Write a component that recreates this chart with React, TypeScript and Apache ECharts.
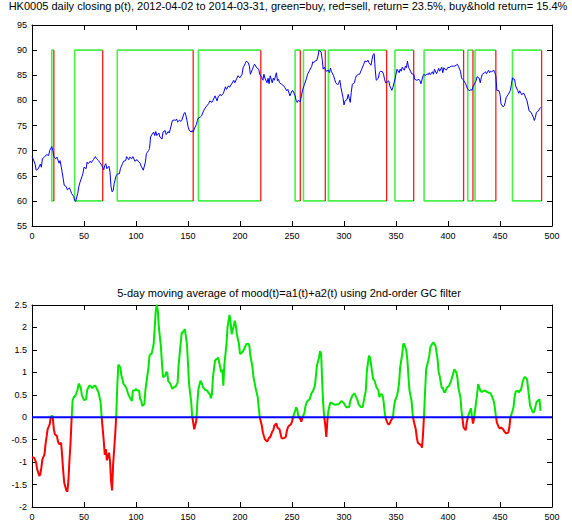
import React, { useEffect, useRef } from "react";
import * as echarts from "echarts";

// ---- top chart: daily closing price (day index, price) ----
const PRICE_DAYS = [
  0, 1, 3, 4, 6, 8, 9, 10, 12, 14, 16, 17, 19, 20, 21, 23, 24, 26, 27, 28, 29, 30, 31, 33, 34, 36, 37, 38, 40, 41, 42, 44, 45, 46, 48, 49,
  50, 52, 53, 54, 56, 57, 59, 61, 62, 64, 65, 67, 69, 70, 71, 72, 74, 75, 76, 77, 78, 79, 81, 82, 84, 85, 87, 88, 90, 91, 93, 94, 96, 97, 99,
  101, 102, 104, 105, 107, 109, 110, 112, 113, 114, 115, 117, 118, 119, 120, 122, 123, 125, 126, 128, 129, 131, 132, 133, 135, 137, 138,
  139, 140, 142, 143, 144, 146, 147, 148, 149, 150, 151, 153, 154, 155, 156, 158, 159, 160, 162, 163, 165, 166, 168, 170, 171, 173, 174,
  176, 178, 179, 181, 182, 184, 186, 187, 189, 190, 192, 194, 195, 197, 198, 200, 202, 203, 205, 206, 208, 209, 210, 212, 213, 214, 216,
  218, 219, 221, 222, 223, 224, 226, 227, 228, 229, 231, 232, 233, 235, 236, 237, 238, 240, 242, 243, 245, 246, 248,
  250, 251, 253, 254, 255, 256, 258, 259, 260, 262, 264, 265, 267, 269, 270, 271, 272, 274, 275, 276, 278, 279, 280, 281, 282, 283, 285,
  286, 287, 288, 290, 291, 292, 294, 295, 296, 297, 299, 300, 301, 303, 304, 305, 306, 307, 308, 310, 311, 312, 314, 315, 317, 319, 320,
  322, 323, 324, 326, 327, 328, 329, 330, 331, 333, 334, 335, 337, 338, 339, 340, 342, 343, 344, 346, 347, 349, 350, 351, 353, 354, 355,
  356, 358, 359, 360, 361, 362, 364, 365, 367, 368, 370, 372, 373, 374, 376, 377, 378, 380, 381, 382, 383, 385, 386, 387, 389, 390, 391,
  392, 394, 395, 396, 398, 399, 400, 401, 403, 405, 406, 408, 409, 410, 412, 413, 414, 415, 417, 418, 419, 421, 422, 423, 424, 426, 427,
  428, 430, 431, 432, 433, 435, 436, 437, 439, 440, 441, 442, 444, 445, 446, 447, 449, 450, 451, 453, 454, 455, 456, 458, 460, 461, 462,
  463, 464, 465, 467, 468, 469, 471, 472, 473, 474, 476, 477, 478, 480, 481, 482, 483, 484, 485, 487, 488, 489,
];
const PRICE_VALUES = [
  68.8, 68.4, 67.3, 66.1, 66.4, 67.3, 66.7, 68.4, 68.7, 69.2, 69.0, 70.0, 70.8, 70.0, 68.8, 68.4, 68.7, 67.5, 68.0, 66.9, 65.7, 64.4, 63.1,
  62.8, 62.2, 62.6, 62.1, 61.5, 60.9, 60.1, 59.9, 61.5, 62.8, 63.6, 64.8, 65.5,
  66.7, 66.4, 67.7, 67.4, 67.9, 67.6, 68.2, 68.8, 68.4, 68.0, 67.7, 67.1, 66.2, 67.1, 67.4, 66.4, 66.9, 65.7, 62.8, 61.8, 62.0, 63.4, 65.1,
  65.3, 65.4, 66.4, 67.4, 67.9, 68.0, 68.8, 68.2, 68.7, 68.4, 68.8, 67.9,
  68.2, 67.9, 67.5, 66.9, 66.1, 67.7, 69.4, 70.0, 70.4, 72.7, 73.1, 73.7, 73.0, 73.8, 73.0, 73.5, 72.7, 72.3, 73.7, 74.0, 73.2, 73.8, 73.5,
  74.3, 76.0, 76.1, 76.0,
  76.3, 75.7, 76.1, 75.8, 76.0, 77.3, 77.6, 77.0, 76.0, 74.8, 74.1, 73.7, 74.0, 73.7, 74.3, 75.2, 76.0, 76.5, 76.7, 76.9, 77.9, 78.3, 78.9,
  79.4, 79.9, 79.6, 80.0,
  80.9, 79.9, 80.7, 81.2, 80.9, 81.4, 82.7, 82.2, 82.9, 82.6, 83.3, 84.0, 83.5, 84.4, 84.9, 84.5, 85.2, 86.5, 87.3, 87.8, 87.5, 86.8, 85.2,
  86.2, 86.8, 87.2, 86.5,
  86.2, 85.2, 84.5, 84.0, 85.2, 84.4, 83.5, 84.4, 83.3, 84.9, 83.5, 84.4, 84.0, 85.5, 83.9, 84.2, 83.5, 83.2, 82.9, 82.6, 81.9, 82.2, 80.9,
  81.9, 81.9, 80.9, 80.0, 79.6, 80.0, 79.7, 80.9, 81.9, 83.2, 84.4, 85.2, 86.0, 86.8, 87.7, 87.5, 87.8, 88.0, 88.8, 90.0, 89.6, 88.2, 86.2,
  86.6, 86.2, 85.8, 86.0,
  85.5, 86.4, 85.7, 84.9, 84.2, 83.5, 83.1, 83.5, 84.0, 82.6, 80.6, 79.1, 79.9, 80.2, 81.2, 80.4, 79.6, 81.6, 83.2, 83.5, 84.4, 84.9, 85.2,
  85.2, 86.2, 87.2, 87.8,
  87.7, 88.0, 87.5, 87.0, 88.2, 89.1, 89.3, 86.2, 84.0, 84.4, 85.5, 85.8, 85.7, 85.2, 84.2, 83.5, 83.7, 83.9, 82.9, 82.0, 82.6, 84.2, 85.2,
  86.2, 85.5, 86.2, 85.8,
  86.6, 86.0, 86.8, 86.5, 87.8, 86.6, 85.8, 85.3, 85.2, 84.2, 84.0, 84.2, 83.9, 83.3, 84.9, 85.2, 84.9, 85.3, 85.1, 85.5, 85.1, 85.7, 85.2,
  86.2, 85.3, 85.8, 86.4,
  85.8, 86.6, 85.5, 86.5, 86.0, 86.2, 86.6, 86.5, 86.8, 86.8, 86.8, 87.0, 87.2, 86.8, 85.8, 84.5, 84.2, 84.0, 83.3, 82.7, 82.2, 81.9, 82.2,
  82.0, 82.7, 83.5, 83.9,
  84.7, 84.4, 83.5, 84.5, 85.2, 85.5, 85.7, 85.3, 86.0, 85.5, 85.8, 85.7, 86.0, 85.5, 84.9, 82.0, 81.9, 81.2, 79.3, 78.7, 78.9, 79.6, 80.6,
  81.2, 82.0, 83.2, 84.5,
  84.2, 84.2, 82.9, 82.0, 81.4, 81.9, 81.1, 81.4, 81.4, 80.9, 79.9, 78.9, 77.9, 77.6, 77.1, 76.7, 76.0, 76.6, 77.6, 77.9, 78.3, 78.6,
];

// buy / sell days (green = buy, red = sell)
const BUY_DAYS = [19, 41, 82, 160, 253, 261, 285, 349, 377, 419, 426, 462];
const SELL_DAYS = [21, 68, 155, 220, 258, 282, 341, 367, 415, 424, 446, 490];
const BOX_LOW = 60;
const BOX_HIGH = 90;

// ---- bottom chart: 5-day moving average of mood ----
const MOOD_DAYS = [
  0, 2, 4, 5, 7, 8, 9, 10, 12, 13, 14, 15, 17, 18, 19, 20, 21, 22, 24, 25, 26, 28, 29, 30, 31, 33, 34, 35, 36, 37, 38, 39, 40, 42, 44, 45,
  47, 48, 50, 52, 53, 55, 56, 58, 60, 61, 63, 64, 66, 67, 69, 70, 71, 72, 74, 75, 76, 77, 78, 80, 81, 82, 83, 85, 86, 87, 88, 90, 91, 92,
  94, 95, 96, 97, 99, 100, 101, 103, 104, 105, 106, 108, 109, 110, 112, 113, 114, 115, 117, 118, 119, 120, 121, 122, 124, 125, 126, 128,
  129, 130, 131, 133, 134, 135, 137, 138, 140, 141, 142, 144, 145, 146, 147, 149, 150, 151, 153, 154, 155, 156, 158, 159, 160, 162, 163,
  164, 165, 167, 168, 169, 171, 172, 173, 174, 176, 177, 178, 179, 181, 182, 183, 184, 185, 187, 188, 189, 190, 191, 192, 194, 195, 196,
  197, 199, 200, 201, 203, 204, 205, 206, 208, 209, 210, 212, 213, 214, 215, 217, 218, 219, 221, 222, 223, 224, 226, 227, 228, 229, 231,
  232, 233, 235, 236, 237, 238, 240, 241, 242, 244, 245, 246, 247, 249, 250, 251, 253, 254, 255, 256, 258, 259, 260, 262, 263, 264, 265,
  267, 268, 269, 270, 272, 273, 274, 276, 277, 278, 279, 280, 281, 282, 283, 284, 285, 286, 287, 289, 290, 292, 294, 295, 297, 298, 300,
  302, 303, 305, 306, 308, 310, 311, 313, 314, 316, 318, 319, 321, 322, 324, 325, 326, 328, 329, 330, 331, 333, 334, 335, 337, 338, 339,
  340, 342, 343, 344, 345, 347, 348, 349, 351, 352, 353, 354, 356, 357, 358, 360, 361, 362, 363, 365, 366, 367, 369, 370, 371, 372, 374,
  375, 376, 377, 378, 379, 381, 382, 383, 385, 386, 387, 388, 390, 391, 392, 394, 395, 396, 397, 399, 400, 401, 403, 404, 405, 406, 408,
  409, 410, 412, 413, 414, 415, 417, 418, 419, 420, 422, 423, 424, 425, 426, 427, 428, 429, 431, 432, 433, 435, 436, 437, 438, 440, 441,
  442, 444, 445, 446, 447, 449, 450, 451, 453, 454, 455, 456, 458, 459, 460, 462, 463, 464, 465, 467, 468, 469, 470, 472, 473, 474, 476,
  477, 478, 479, 481, 482, 483, 485, 486, 487, 488, 489,
];
const MOOD_VALUES = [
  -0.89, -0.9, -1.01, -1.16, -1.31, -1.27, -1.12, -0.94, -0.83, -0.6, -0.44, -0.27, -0.16, -0.01, 0.04, -0.01, -0.27, -0.38, -0.42, -0.54,
  -0.6, -0.57, -0.86, -1.2, -1.46, -1.63, -1.66, -1.42, -0.97, -0.6, -0.08, 0.36, 0.44, 0.49, 0.63, 0.75,
  0.65, 0.48, 0.38, 0.4, 0.6, 0.7, 0.7, 0.65, 0.7, 0.7, 0.6, 0.55, 0.33, 0.0, -0.53, -0.84, -0.71, -0.96, -0.79, -0.97, -1.42, -1.63, -1.05,
  -0.38, 0.03, 0.7, 1.17, 1.11, 0.92, 0.85, 0.74, 0.68, 0.63, 0.55,
  0.44, 0.4, 0.36, 0.59, 0.6, 0.63, 0.6, 0.59, 0.4, 0.38, 0.25, 0.29, 0.59, 0.77, 1.11, 1.37, 1.41, 1.41, 1.63, 2.0, 2.37, 2.51, 2.37, 2.0,
  1.56, 1.18, 0.89, 0.92,
  1.0, 1.0, 0.81, 0.75, 0.68, 0.63, 0.68, 0.68, 0.77, 1.18, 1.41, 1.89, 1.89, 1.93, 1.96, 1.63, 1.18, 0.74, 0.36, 0.03, -0.12, -0.27, -0.08,
  0.33, 0.63, 0.81, 0.77,
  0.7, 0.65, 0.6, 0.6, 0.57, 0.51, 0.42, 0.51, 0.89, 1.26, 1.29, 1.29, 1.33, 1.11, 1.0, 1.07, 0.7, 1.18, 1.63, 2.0, 2.15, 2.28, 2.11, 1.85,
  2.04, 2.15, 2.04,
  1.85, 1.63, 1.41, 1.42, 1.47, 1.52, 1.57, 1.63, 1.64, 1.59, 1.37, 1.11, 0.89, 0.77, 0.65, 0.45, 0.22, 0.0, -0.19, -0.34, -0.42, -0.49,
  -0.54, -0.51, -0.45, -0.45, -0.32,
  -0.29, -0.19, -0.14, -0.23, -0.25, -0.27, -0.47, -0.47, -0.47, -0.44, -0.31, -0.23, -0.19, -0.16, -0.1, 0.0, 0.14, 0.22, 0.18, 0.03,
  -0.04, -0.1, -0.01, 0.1, 0.25, 0.33, 0.36,
  0.4, 0.48, 0.55, 0.57, 0.7, 0.92, 1.15, 1.33, 1.47, 1.42, 0.81, 0.29, 0.01, -0.19, -0.44, -0.08, 0.14, 0.25, 0.33, 0.31, 0.29, 0.28, 0.29,
  0.29, 0.35, 0.36, 0.31,
  0.23, 0.22, 0.23, 0.36, 0.48, 0.53, 0.48, 0.38, 0.29, 0.23, 0.23, 0.36, 0.6, 1.03, 1.37, 1.33, 1.18, 0.85, 0.83, 0.77, 0.68, 0.6, 0.45,
  0.51, 0.5, 0.36, 0.14,
  -0.02, -0.14, -0.16, -0.14, -0.08, -0.01, 0.22, 0.36, 0.48, 0.6, 0.77, 1.11, 1.41, 1.63, 1.63, 1.48, 1.26, 0.89, 0.59, 0.36, 0.07, -0.08,
  -0.27, -0.45, -0.57, -0.59, -0.62,
  -0.68, -0.38, 0.07, 0.59, 1.07, 1.26, 1.37, 1.56, 1.64, 1.67, 1.63, 1.59, 1.29, 1.0, 0.92, 0.65, 0.66, 0.57, 0.55, 0.66, 0.68, 0.7, 0.81,
  0.9, 0.97, 1.07, 1.0,
  0.89, 0.66, 0.44, 0.14, -0.04, -0.23, -0.29, -0.12, -0.01, 0.07, 0.2, 0.03, -0.14, -0.04, 0.14, 0.33, 0.51, 0.74, 0.6, 0.57, 0.57, 0.59,
  0.59, 0.57, 0.56, 0.54, 0.53,
  0.48, 0.36, 0.22, 0.03, -0.12, -0.23, -0.25, -0.23, -0.27, -0.31, -0.34, -0.36, -0.34, -0.23, -0.01, 0.14, 0.22, 0.44, 0.57, 0.59, 0.55,
  0.6, 0.59, 0.81, 0.87, 0.9, 0.85,
  0.65, 0.44, 0.25, 0.14, 0.1, 0.13, 0.33, 0.36, 0.38, 0.4, 0.14,
];

const TITLE_TOP =
  "HK0005 daily closing p(t), 2012-04-02 to 2014-03-31, green=buy, red=sell, return= 23.5%, buy&hold return= 15.4%";
const TITLE_BOTTOM = "5-day moving average of mood(t)=a1(t)+a2(t) using 2nd-order GC filter";

const FONT_FAMILY = "Liberation Sans, Arial, sans-serif";
const GREEN_BOX = "#4af04a";
const RED_BOX = "#ff1a1a";
const MOOD_GREEN = "#00e600";
const MOOD_RED = "#ff0000";
const BLUE = "#0000ff";

function zip(xs: number[], ys: number[]) {
  return xs.map((x, i) => [x, ys[i]]);
}

function xAxis(gridIndex: number, position: string, labels: boolean) {
  return {
    type: "value",
    gridIndex,
    position,
    min: 0,
    max: 500,
    interval: 50,
    axisLine: { show: true, onZero: false, lineStyle: { color: "#000", width: 1 } },
    axisTick: { show: true, inside: true, length: 5, lineStyle: { color: "#000" } },
    axisLabel: { show: labels, color: "#000", fontSize: 9, fontFamily: FONT_FAMILY, margin: 5 },
    splitLine: { show: false },
  };
}

function yAxis(gridIndex: number, position: string, labels: boolean, min: number, max: number, interval: number) {
  return {
    type: "value",
    gridIndex,
    position,
    min,
    max,
    interval,
    axisLine: { show: true, onZero: false, lineStyle: { color: "#000", width: 1 } },
    axisTick: { show: true, inside: true, length: 5, lineStyle: { color: "#000" } },
    axisLabel: { show: labels, color: "#000", fontSize: 9, fontFamily: FONT_FAMILY, margin: 5 },
    splitLine: { show: false },
  };
}

export default function App() {
  const ref = useRef<HTMLDivElement>(null);

  useEffect(() => {
    if (!ref.current) return;
    const chart = echarts.init(ref.current, undefined, { renderer: "svg" });

    const series: any[] = [];
    series.push({
      type: "line",
      xAxisIndex: 0,
      yAxisIndex: 0,
      data: zip(PRICE_DAYS, PRICE_VALUES),
      showSymbol: false,
      lineStyle: { color: BLUE, width: 1 },
      z: 3,
    });
    BUY_DAYS.forEach((b, i) => {
      const s = SELL_DAYS[i];
      series.push({
        type: "line",
        xAxisIndex: 0,
        yAxisIndex: 0,
        data: [
          [s, BOX_HIGH],
          [b, BOX_HIGH],
          [b, BOX_LOW],
          [s, BOX_LOW],
        ],
        showSymbol: false,
        lineStyle: { color: GREEN_BOX, width: 1.6 },
        z: 2,
      });
      series.push({
        type: "line",
        xAxisIndex: 0,
        yAxisIndex: 0,
        data: [
          [s, BOX_LOW],
          [s, BOX_HIGH],
        ],
        showSymbol: false,
        lineStyle: { color: RED_BOX, width: 1.3 },
        z: 2,
      });
    });
    const moodIndex = series.length;
    series.push({
      type: "line",
      xAxisIndex: 2,
      yAxisIndex: 2,
      data: zip(MOOD_DAYS, MOOD_VALUES),
      showSymbol: false,
      lineStyle: { width: 2, color: MOOD_GREEN },
      z: 2,
    });
    series.push({
      type: "line",
      xAxisIndex: 2,
      yAxisIndex: 2,
      data: [
        [0, 0],
        [500, 0],
      ],
      showSymbol: false,
      lineStyle: { color: BLUE, width: 2 },
      z: 3,
    });

    const titleFont = `11px ${FONT_FAMILY}`;

    try {
      chart.setOption({
        animation: false,
        backgroundColor: "#fff",
        graphic: [
          {
            type: "text",
            x: 288,
            y: 0,
            style: { text: TITLE_TOP, font: titleFont, fill: "#000", align: "center", verticalAlign: "top" },
          },
          {
            type: "text",
            x: 289,
            y: 287,
            style: { text: TITLE_BOTTOM, font: titleFont, fill: "#000", align: "center", verticalAlign: "top" },
          },
        ],
        grid: [
          { left: 32, right: 20, top: 25, height: 201 },
          { left: 32, right: 20, top: 305, height: 202 },
        ],
        xAxis: [xAxis(0, "bottom", true), xAxis(0, "top", false), xAxis(1, "bottom", true), xAxis(1, "top", false)],
        yAxis: [
          yAxis(0, "left", true, 55, 95, 5),
          yAxis(0, "right", false, 55, 95, 5),
          yAxis(1, "left", true, -2, 2.5, 0.5),
          yAxis(1, "right", false, -2, 2.5, 0.5),
        ],
        series,
      });

      // colour the mood line green above zero and red below, split exactly at the zero level
      const p = chart.convertToPixel({ xAxisIndex: 2, yAxisIndex: 2 } as any, [0, 0]) as number[];
      const y0 = p[1];
      const grad = new echarts.graphic.LinearGradient(
        0,
        y0 - 100,
        0,
        y0 + 100,
        [
          { offset: 0, color: MOOD_GREEN },
          { offset: 0.5, color: MOOD_GREEN },
          { offset: 0.5, color: MOOD_RED },
          { offset: 1, color: MOOD_RED },
        ],
        true
      );
      const upd: any[] = series.map(() => ({}));
      upd[moodIndex] = { lineStyle: { color: grad } };
      chart.setOption({ series: upd });
    } catch (e) {
      console.error(e);
    }

    return () => chart.dispose();
  }, []);

  return (
    <div
      ref={ref}
      style={{ position: "fixed", left: 0, top: 0, width: 572, height: 523, background: "#fff" }}
    />
  );
}
